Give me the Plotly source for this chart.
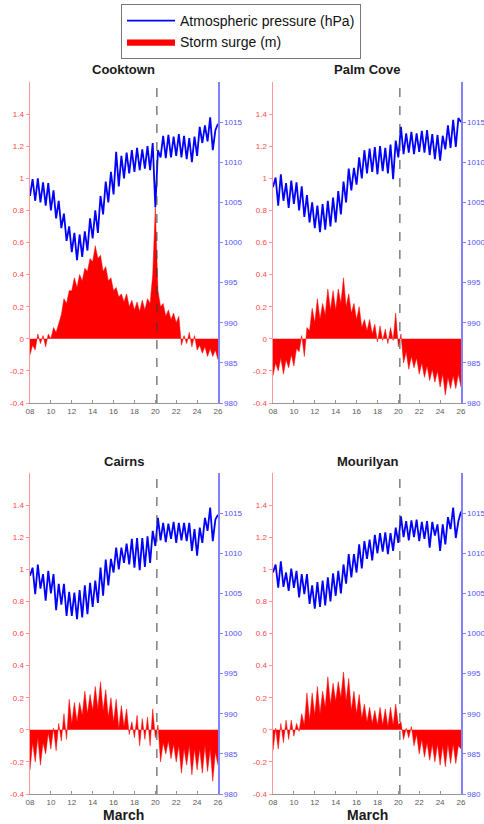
import numpy as np
import plotly.graph_objects as go

# ---------------- data (6-hourly samples, 8 March 00h .. 26 March 00h) ----------------
stations = ["Cooktown", "Palm Cove", "Cairns", "Mourilyan"]
start_day = 8.0
step_days = 0.25

cooktown_pressure = [
    1005.8, 1007.9, 1005.2, 1008.0, 1005.0, 1007.5, 1004.6, 1007.4, 1004.0, 1006.5,
    1003.0, 1005.2, 1001.8, 1003.6, 1000.2, 1002.0, 998.8, 1001.2, 997.8, 1001.0,
    998.2, 1001.4, 999.0, 1003.0, 1000.5, 1004.0, 1001.2, 1005.8, 1003.5, 1007.6,
    1005.0, 1008.8, 1006.0, 1011.3, 1007.0, 1010.8, 1008.0, 1011.2, 1008.6, 1011.5,
    1008.8, 1011.8, 1009.0, 1011.6, 1009.2, 1012.0, 1009.0, 1012.4, 1004.4, 1011.5,
    1010.6, 1013.3, 1010.5, 1013.4, 1010.6, 1013.2, 1010.8, 1013.5, 1010.6, 1013.3,
    1010.4, 1013.0, 1010.0, 1013.2, 1010.8, 1014.4, 1012.4, 1014.6, 1012.6, 1015.6,
    1011.5, 1014.0, 1014.8]
cooktown_surge = [
    -0.10, -0.04, -0.07, 0.03, -0.03, 0.02, -0.05, 0.03, 0.00, 0.07, 0.04, 0.09,
    0.15, 0.25, 0.22, 0.30, 0.30, 0.38, 0.32, 0.40, 0.36, 0.44, 0.42, 0.50,
    0.48, 0.58, 0.50, 0.52, 0.42, 0.45, 0.36, 0.38, 0.30, 0.32, 0.26, 0.28,
    0.23, 0.28, 0.20, 0.24, 0.18, 0.23, 0.17, 0.24, 0.18, 0.25, 0.22, 0.40,
    0.82, 0.30, 0.20, 0.22, 0.14, 0.18, 0.12, 0.16, 0.10, 0.14, -0.04, 0.02,
    -0.03, 0.04, -0.05, 0.02, -0.07, -0.04, -0.09, -0.05, -0.11, -0.06, -0.11, -0.07, -0.13]

palmcove_pressure = [
    1006.9, 1008.1, 1004.6, 1008.5, 1005.2, 1007.4, 1004.3, 1007.7, 1004.8, 1007.5,
    1004.0, 1007.0, 1003.2, 1005.9, 1002.5, 1005.0, 1001.8, 1004.6, 1001.3, 1004.8,
    1001.6, 1005.2, 1002.0, 1005.6, 1002.5, 1006.4, 1003.5, 1007.6, 1005.0, 1009.2,
    1006.5, 1009.3, 1007.2, 1010.6, 1008.0, 1011.5, 1008.6, 1011.7, 1008.8, 1011.9,
    1008.5, 1012.0, 1008.9, 1011.8, 1008.6, 1012.2, 1007.9, 1012.7, 1010.6, 1014.4,
    1011.0, 1013.6, 1011.2, 1013.8, 1011.0, 1013.6, 1011.3, 1013.9, 1011.2, 1014.0,
    1010.9, 1013.5, 1010.4, 1013.4, 1010.2, 1013.3, 1011.6, 1014.6, 1011.8, 1015.3,
    1011.9, 1015.5, 1015.0]
palmcove_surge = [
    -0.23, -0.15, -0.20, -0.12, -0.22, -0.13, -0.18, -0.10, -0.17, -0.06,
    -0.08, 0.02, -0.11, 0.07, 0.05, 0.19, 0.10, 0.25, 0.12, 0.22,
    0.15, 0.31, 0.18, 0.30, 0.18, 0.31, 0.22, 0.38, 0.20, 0.28,
    0.16, 0.22, 0.12, 0.20, 0.07, 0.12, 0.05, 0.12, 0.03, 0.09,
    -0.02, 0.08, -0.01, 0.06, -0.03, 0.07, -0.01, 0.16, -0.05, 0.03,
    -0.15, -0.08, -0.19, -0.11, -0.18, -0.12, -0.22, -0.15, -0.24, -0.17,
    -0.26, -0.19, -0.27, -0.20, -0.30, -0.22, -0.35, -0.24, -0.31, -0.23,
    -0.31, -0.22, -0.30]

cairns_pressure = [
    1007.2, 1008.2, 1004.9, 1008.6, 1005.6, 1007.4, 1004.1, 1007.8, 1005.0, 1007.4,
    1002.9, 1006.2, 1003.6, 1006.2, 1002.2, 1005.2, 1002.2, 1005.1, 1001.8, 1005.4,
    1002.0, 1006.0, 1002.4, 1006.3, 1003.3, 1006.6, 1003.8, 1008.2, 1004.7, 1009.2,
    1006.0, 1009.3, 1007.6, 1010.7, 1008.0, 1010.7, 1008.8, 1011.2, 1008.6, 1011.8,
    1008.2, 1011.9, 1007.9, 1011.9, 1008.3, 1012.1, 1008.8, 1012.8, 1010.9, 1014.4,
    1011.6, 1013.8, 1011.4, 1013.7, 1011.8, 1013.9, 1011.3, 1013.8, 1011.6, 1013.8,
    1011.5, 1013.8, 1010.3, 1013.0, 1009.7, 1013.2, 1011.3, 1014.4, 1012.8, 1015.7,
    1011.5, 1014.2, 1014.8]
cairns_surge = [
    -0.25, -0.08, -0.20, -0.05, -0.22, -0.08, -0.15, -0.02, -0.12, 0.01,
    -0.13, 0.04, -0.07, 0.10, -0.06, 0.19, 0.04, 0.17, 0.05, 0.17,
    0.09, 0.24, 0.10, 0.22, 0.12, 0.27, 0.13, 0.30, 0.12, 0.25,
    0.08, 0.20, 0.05, 0.19, 0.01, 0.15, 0.02, 0.13, -0.03, 0.05,
    -0.05, 0.09, -0.10, 0.07, -0.06, 0.08, -0.10, 0.13, -0.05, 0.03,
    -0.20, -0.08, -0.15, -0.07, -0.18, -0.09, -0.20, -0.10, -0.27, -0.12,
    -0.22, -0.10, -0.28, -0.12, -0.25, -0.12, -0.27, -0.10, -0.26, -0.12,
    -0.32, -0.14, -0.22]

mourilyan_pressure = [
    1007.6, 1008.6, 1005.7, 1009.0, 1005.8, 1007.6, 1005.3, 1008.1, 1005.7, 1007.8,
    1004.5, 1007.4, 1004.9, 1007.4, 1003.7, 1006.0, 1003.1, 1006.4, 1003.3, 1006.6,
    1003.5, 1007.0, 1004.0, 1007.5, 1004.7, 1007.8, 1005.0, 1008.6, 1006.2, 1009.9,
    1007.0, 1009.9, 1007.6, 1011.1, 1008.1, 1011.5, 1009.3, 1011.7, 1009.1, 1012.3,
    1010.0, 1012.5, 1010.2, 1012.6, 1009.9, 1012.5, 1010.3, 1013.2, 1011.3, 1014.6,
    1012.0, 1014.0, 1011.6, 1014.1, 1012.0, 1014.2, 1011.5, 1013.9, 1011.8, 1014.0,
    1010.7, 1013.9, 1012.2, 1013.6, 1010.3, 1013.6, 1011.1, 1014.5, 1013.0, 1015.7,
    1011.9, 1014.0, 1015.2]
mourilyan_surge = [
    -0.13, 0.01, -0.12, 0.04, -0.08, 0.06, -0.06, 0.06, -0.04, 0.04,
    -0.01, 0.10, 0.03, 0.23, 0.06, 0.23, 0.09, 0.27, 0.10, 0.24,
    0.14, 0.33, 0.16, 0.29, 0.18, 0.30, 0.20, 0.36, 0.18, 0.32,
    0.12, 0.24, 0.10, 0.22, 0.07, 0.16, 0.05, 0.14, 0.04, 0.12,
    0.03, 0.14, 0.03, 0.13, 0.02, 0.14, 0.03, 0.16, 0.03, 0.05,
    -0.06, 0.01, -0.05, 0.02, -0.10, -0.03, -0.15, -0.06, -0.17, -0.08,
    -0.19, -0.09, -0.20, -0.09, -0.22, -0.10, -0.23, -0.09, -0.21, -0.09,
    -0.21, -0.10, -0.12]

pressure_series = [cooktown_pressure, palmcove_pressure, cairns_pressure, mourilyan_pressure]
surge_series = [cooktown_surge, palmcove_surge, cairns_surge, mourilyan_surge]

x_tick_vals = [8, 10, 12, 14, 16, 18, 20, 22, 24, 26]
x_tick_text = ["08", "10", "12", "14", "16", "18", "20", "22", "24", "26"]
surge_tick_vals = [-0.4, -0.2, 0, 0.2, 0.4, 0.6, 0.8, 1.0, 1.2, 1.4]
surge_tick_text = ["-0.4", "-0.2", "0", "0.2", "0.4", "0.6", "0.8", "1", "1.2", "1.4"]
pressure_tick_vals = [980, 985, 990, 995, 1000, 1005, 1010, 1015]
landfall_day = 20.15
month_label = "March"

# ---------------- layout geometry ----------------
W, H = 484, 824
FONT = "Liberation Sans, Arial, Helvetica, sans-serif"
cols_px = [(30, 218), (273, 461)]
rows_px = [(82, 403), (473, 794)]


def px_x(X):
    return X / W


def px_y(Y):
    return 1 - Y / H


RED_LINE = "rgb(255,150,150)"
RED_TXT = "rgb(255,70,70)"
BLUE_LINE = "rgb(130,130,255)"
BLUE_TXT = "rgb(80,80,255)"

fig = go.Figure()
layout = dict(
    width=W, height=H, margin=dict(l=0, r=0, t=0, b=0, autoexpand=False),
    paper_bgcolor="white", plot_bgcolor="rgba(0,0,0,0)",
    font=dict(family=FONT, size=8, color="#444"),
    showlegend=True, hovermode=False,
    legend=dict(x=px_x(121), y=px_y(31.5), xanchor="left", yanchor="middle",
                bordercolor="rgb(120,120,120)", borderwidth=1, bgcolor="white",
                font=dict(family=FONT, size=14, color="#111"),
                itemwidth=48, tracegroupgap=0, traceorder="normal"),
)
annotations = []
shapes = []

for k, name in enumerate(stations):
    r, c = divmod(k, 2)
    x0, x1 = cols_px[c]
    ytop, ybot = rows_px[r]
    xdom = [px_x(x0), px_x(x1)]
    ydom = [px_y(ybot), px_y(ytop)]
    n = len(pressure_series[k])
    t = start_day + step_days * np.arange(n)

    xa = "x" if k == 0 else f"x{k + 1}"
    ya = "y" if k == 0 else f"y{k + 1}"
    yb = f"y{k + 5}"

    fig.add_trace(go.Scatter(
        x=t, y=surge_series[k], xaxis=xa, yaxis=ya, mode="lines",
        fill="tozeroy", fillcolor="rgb(255,0,0)",
        line=dict(color="rgb(255,0,0)", width=0.5),
        name="Storm surge (m)", legendgroup="surge", legendrank=2,
        showlegend=(k == 0)))
    fig.add_trace(go.Scatter(
        x=t, y=pressure_series[k], xaxis=xa, yaxis=yb, mode="lines",
        line=dict(color="rgb(0,0,255)", width=1.8),
        name="Atmospheric pressure (hPa)", legendgroup="pres", legendrank=1,
        showlegend=(k == 0)))

    layout["xaxis" if k == 0 else f"xaxis{k + 1}"] = dict(
        domain=xdom, anchor=ya, range=[8, 26], automargin=False,
        tickvals=x_tick_vals, ticktext=x_tick_text,
        showline=True, linecolor="rgb(150,150,150)", linewidth=1,
        ticks="inside", ticklen=3, tickcolor="rgb(150,150,150)",
        tickfont=dict(size=8, color="rgb(90,90,90)"),
        showgrid=False, zeroline=False)
    layout["yaxis" if k == 0 else f"yaxis{k + 1}"] = dict(
        domain=ydom, anchor=xa, range=[-0.4, 1.6], automargin=False,
        tickvals=surge_tick_vals, ticktext=surge_tick_text,
        showline=True, linecolor=RED_LINE, linewidth=1.5,
        ticks="outside", ticklen=3, tickcolor=RED_LINE,
        tickfont=dict(size=8, color=RED_TXT),
        showgrid=False, zeroline=False)
    layout[f"yaxis{k + 5}"] = dict(
        overlaying=ya, anchor=xa, side="right", range=[980, 1020], automargin=False,
        tickvals=pressure_tick_vals,
        showline=True, linecolor=BLUE_LINE, linewidth=1.5,
        ticks="outside", ticklen=3, tickcolor=BLUE_LINE,
        tickfont=dict(size=8, color=BLUE_TXT),
        showgrid=False, zeroline=False)

    shapes.append(dict(type="line", xref=xa, yref=f"{ya} domain",
                       x0=landfall_day, x1=landfall_day, y0=0, y1=1,
                       line=dict(color="rgb(60,60,60)", width=1, dash="dash"),
                       layer="above"))

    annotations.append(dict(text=f"<b>{name}</b>", xref="paper", yref="paper",
                            x=px_x((x0 + x1) / 2), y=px_y(ytop - 12),
                            xanchor="center", yanchor="middle", showarrow=False,
                            font=dict(family=FONT, size=13, color="#1a1a1a")))
    if r == 1:
        annotations.append(dict(text=f"<b>{month_label}</b>", xref="paper", yref="paper",
                                x=px_x((x0 + x1) / 2), y=px_y(815),
                                xanchor="center", yanchor="middle", showarrow=False,
                                font=dict(family=FONT, size=14, color="#1a1a1a")))

layout["annotations"] = annotations
layout["shapes"] = shapes
fig.update_layout(**layout)
# remove the browser's default 8px page margin so the figure fills the window
fig.write_html("out.html",
               config={"displayModeBar": False, "staticPlot": True},
               post_script="document.body.style.margin='0';document.body.style.overflow='hidden';")
